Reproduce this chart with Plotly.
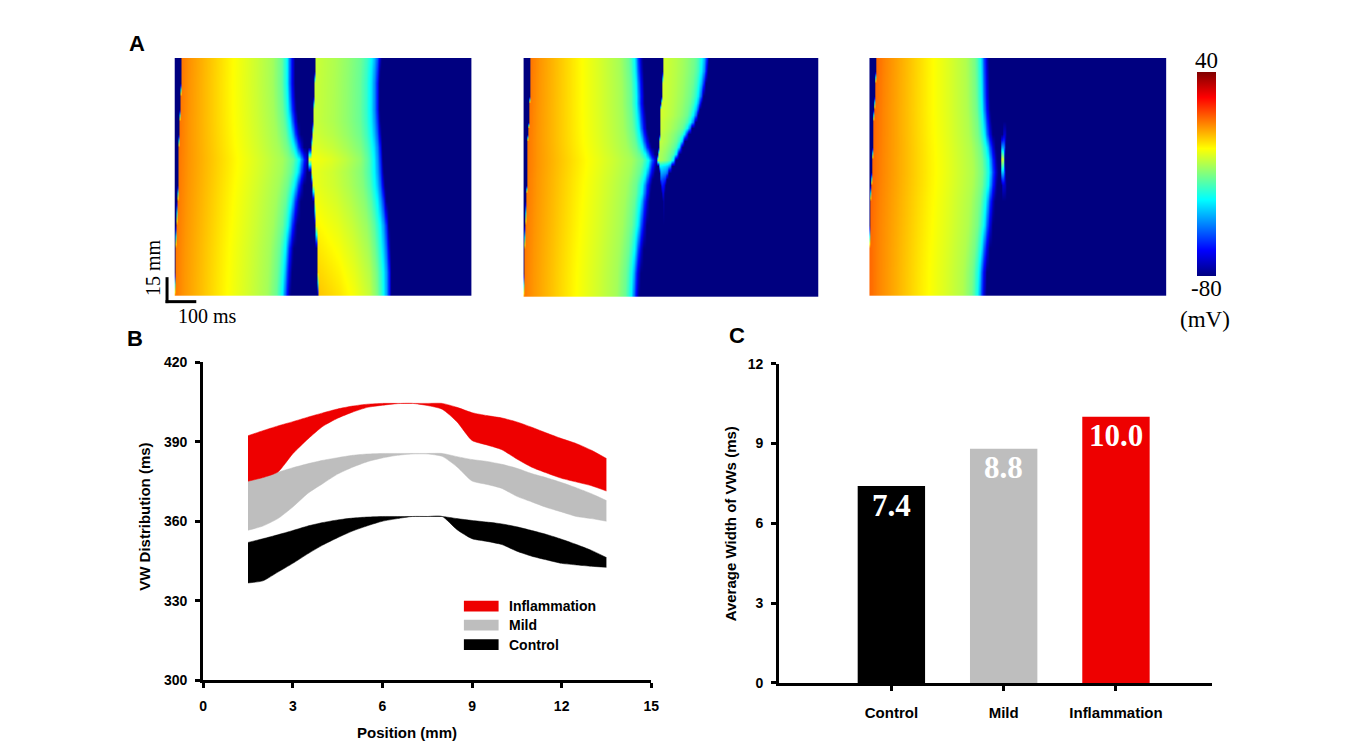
import numpy as np
import plotly.graph_objects as go

W, H = 1356, 756

# ---------------- Panel A: space-time voltage maps ----------------
# action-potential colour profile (fraction of AP duration -> fraction of amplitude)
AP1_U = [0, 0.08, 0.25, 0.45, 0.65, 0.8, 0.88, 0.93, 0.965, 1.0]
AP1_F = [1, 0.96, 0.90, 0.826, 0.761, 0.707, 0.630, 0.489, 0.217, 0]
AP2_U = [0, 0.3, 0.5, 0.7, 0.8, 0.88, 0.94, 0.98, 1.0]
AP2_F = [1, 0.95, 0.90, 0.83, 0.74, 0.60, 0.40, 0.18, 0]
REST_MV = -80

# Control
CTRL_POS = [0, 1.5, 3, 4.5, 6, 7, 7.8, 8.6, 9.4, 10.2, 11, 11.8, 12.6, 13.4, 14.2, 15]
CTRL_ACT1 = [0, 1, 3, 6, 9, 11, 12, 13, 15, 16, 17, 19, 20, 21, 23, 24]
CTRL_END1 = [389, 394, 400, 411, 422, 433, 444, 450, 433, 422, 415, 410, 407, 405, 405, 405]
CTRL_PEAK1 = 11
CTRL_ACT2 = [483, 481, 478, 474, 470, 464, 458, 450, 459, 463, 466, 467, 468, 469, 471, 472]
CTRL_END2 = [728, 728, 724, 720, 711, 705, 702, 700, 698, 694, 691, 689, 689, 689, 691, 694]
CTRL_PEAK2 = [2, 0, -2, -4, -6, -7, -7, -5, -8, -10, -11, -11, -11, -11, -11, -11]

# Mild
MILD_POS = [0, 1.5, 3, 4.5, 6, 6.5, 7, 7.4, 7.8, 8.2, 8.6, 9.0, 9.4, 9.8, 10.2, 10.6, 11,
            11.4, 11.8, 12.2, 12.6, 13.4, 14.2, 15]
MILD_ACT1 = [0, 1, 3, 6, 9, 10, 11, 11, 12, 13, 13, 14, 15, 15, 16, 17, 18,
             18, 19, 20, 21, 22, 24, 25]
MILD_END1 = [392, 396, 405, 416, 425, 430, 433, 438, 444, 450, 455, 444, 433, 427, 422, 418, 416,
             414, 412, 410, 410, 408, 405, 403]
MILD_PEAK1 = 11
MILD_ACT2 = [472, 472, 472, 472, 472, 470, 467, 464, 461, 458, 455, 456, 458, 460, 461, 462, 463,
             464, 465, 466, 468, 470, 471, 472]
MILD_END2 = [477, 477, 477, 477, 477, 477, 479, 483, 492, 503, 515, 526, 536, 545, 557, 570, 582,
             591, 597, 603, 609, 616, 623, 626]
MILD_PEAK2 = [-80, -80, -80, -80, -74, -68, -62, -55, -45, -35, -14, -14, -13, -12, -12, -11, -11,
              -10, -10, -10, -10, -10, -10, -10]

# Inflammation
INFL_POS = [0, 1.5, 3, 4.5, 6, 7, 7.8, 8.6, 9.4, 10.2, 11, 11.8, 12.6, 13.4, 14.2, 15]
INFL_ACT1 = [0, 0, 0, 1, 4, 7, 9, 10, 12, 14, 15, 16, 18, 19, 21, 22]
INFL_END1 = [392, 395, 404, 414, 421, 429, 432, 429, 423, 414, 410, 406, 404, 403, 402, 401]
INFL_PEAK1 = 13
INFL_ACT2 = [450, 450, 450, 450, 450, 447, 444, 442, 445, 448, 450, 450, 450, 450, 450, 450]
INFL_END2 = [462, 462, 462, 462, 462, 459, 456, 455, 457, 460, 462, 462, 462, 462, 462, 462]
INFL_PEAK2 = [-80, -80, -80, -80, -80, -70, -40, -5, -45, -70, -80, -80, -80, -80, -80, -80]

TIME_MS = np.arange(0, 1000.1, 2.5)

def ap_trace(t, act, end, peak, U, F):
    u = (t - act) / (end - act)
    v = REST_MV + (peak - REST_MV) * np.interp(u, U, F)
    v[(u < 0) | (u > 1)] = REST_MV
    return v

def field(pos, act1, end1, peak1, act2, end2, peak2):
    z = []
    for i in range(len(pos)):
        v1 = ap_trace(TIME_MS, act1[i], end1[i], peak1, AP1_U, AP1_F)
        v2 = ap_trace(TIME_MS, act2[i], end2[i], peak2[i], AP2_U, AP2_F)
        z.append(np.maximum(v1, v2))
    return np.array(z)

JET = [[0.0, 'rgb(0,0,128)'], [0.125, 'rgb(0,0,255)'], [0.375, 'rgb(0,255,255)'],
       [0.625, 'rgb(255,255,0)'], [0.875, 'rgb(255,0,0)'], [1.0, 'rgb(128,0,0)']]
V_MIN, V_MAX = -80, 40

# ---------------- Panel B: VW distribution ----------------
POSITION = [1.5, 2.0, 2.5, 3.0, 3.5, 4.0, 4.5, 5.0, 5.5, 6.0, 6.5, 7.0, 7.5, 8.0, 8.5,
            9.0, 9.5, 10.0, 10.5, 11.0, 11.5, 12.0, 12.5, 13.0, 13.5]
INFL_HI = [392.3, 394.2, 396.0, 397.6, 399.3, 400.9, 402.4, 403.5, 404.2, 404.5, 404.5, 404.5, 404.5,
           404.5, 403.0, 401.0, 399.9, 399.0, 397.5, 395.5, 393.3, 391.2, 389.3, 386.8, 383.7]
INFL_LO = [375.1, 376.5, 378.6, 385.5, 391.0, 395.8, 398.9, 401.2, 403.0, 403.8, 404.4, 404.5, 403.7,
           402.3, 397.5, 390.5, 388.8, 387.0, 383.5, 380.4, 378.2, 376.2, 374.8, 373.4, 371.4]
MILD_HI = [375.1, 376.5, 378.5, 380.2, 381.7, 383.0, 384.0, 384.9, 385.4, 385.6, 385.6, 385.6, 385.6,
           385.6, 384.4, 383.3, 382.6, 381.5, 380.0, 378.0, 376.4, 374.6, 372.6, 370.4, 367.8]
MILD_LO = [356.6, 358.2, 361.0, 365.4, 370.5, 374.2, 377.8, 380.4, 382.5, 383.9, 384.9, 385.4, 385.4,
           384.5, 380.5, 375.2, 373.9, 372.4, 369.4, 367.3, 365.2, 363.5, 361.8, 361.0, 360.0]
CTRL_HI = [352.0, 353.4, 354.9, 356.5, 358.2, 359.5, 360.5, 361.2, 361.6, 361.8, 361.8, 361.8, 361.8,
           361.8, 361.0, 360.3, 359.7, 359.0, 357.9, 356.5, 355.0, 353.2, 351.2, 349.0, 346.3]
CTRL_LO = [336.7, 337.5, 340.8, 344.1, 347.7, 351.0, 353.8, 356.3, 358.3, 360.0, 361.0, 361.8, 361.8,
           361.8, 356.8, 353.4, 352.4, 351.2, 348.7, 346.8, 345.4, 344.1, 343.5, 343.0, 342.6]
B_X_TICKS = [0, 3, 6, 9, 12, 15]
B_Y_TICKS = [300, 330, 360, 390, 420]

# ---------------- Panel C: average width ----------------
CATEGORIES = ["Control", "Mild", "Inflammation"]
AVG_WIDTH = [7.4, 8.8, 10.0]
C_Y_TICKS = [0, 3, 6, 9, 12]

RED = 'rgb(238,0,0)'
GRAY = 'rgb(190,190,190)'
BLACK = 'rgb(0,0,0)'
GROUP_COLORS = [BLACK, GRAY, RED]

def px(X):
    return X / W

def py(Y):
    return 1 - Y / H

fig = go.Figure()

# heatmaps
maps = [
    (CTRL_POS, field(CTRL_POS, CTRL_ACT1, CTRL_END1, CTRL_PEAK1, CTRL_ACT2, CTRL_END2, CTRL_PEAK2), 'x', 'y'),
    (MILD_POS, field(MILD_POS, MILD_ACT1, MILD_END1, MILD_PEAK1, MILD_ACT2, MILD_END2, MILD_PEAK2), 'x2', 'y2'),
    (INFL_POS, field(INFL_POS, INFL_ACT1, INFL_END1, INFL_PEAK1, INFL_ACT2, INFL_END2, INFL_PEAK2), 'x3', 'y3'),
]
for k, (pos, z, xa, ya) in enumerate(maps):
    fig.add_trace(go.Heatmap(
        z=z, x=TIME_MS, y=pos, xaxis=xa, yaxis=ya, colorscale=JET,
        zmin=V_MIN, zmax=V_MAX, zsmooth='best', hoverinfo='skip',
        showscale=(k == 2),
        colorbar=dict(x=px(1204), xanchor='left', y=py(170), yanchor='middle',
                      lenmode='pixels', len=204, thickness=19, thicknessmode='pixels',
                      xpad=0, ypad=0, outlinewidth=0, showticklabels=False, ticks='')
    ))

# panel B bands
bands = [(CTRL_LO, CTRL_HI, BLACK), (MILD_LO, MILD_HI, GRAY), (INFL_LO, INFL_HI, RED)]
for lo, hi, col in bands:
    fig.add_trace(go.Scatter(x=POSITION, y=lo, xaxis='x4', yaxis='y4', mode='lines',
                             line=dict(color=col, width=0.5, shape='spline', smoothing=0.6),
                             hoverinfo='skip', showlegend=False))
    fig.add_trace(go.Scatter(x=POSITION, y=hi, xaxis='x4', yaxis='y4', mode='lines',
                             line=dict(color=col, width=0.5, shape='spline', smoothing=0.6),
                             fill='tonexty', fillcolor=col, hoverinfo='skip', showlegend=False))

# panel C bars
fig.add_trace(go.Bar(x=list(range(len(CATEGORIES))), y=AVG_WIDTH, xaxis='x5', yaxis='y5',
                     width=0.6, marker=dict(color=GROUP_COLORS, line=dict(width=0)),
                     hoverinfo='skip', showlegend=False))

SANS = "Liberation Sans, Arial, sans-serif"
SERIF = "Liberation Serif, Times New Roman, serif"

hidden = dict(visible=False, fixedrange=True)
axis_common = dict(showline=True, linewidth=3, linecolor='black', ticks='outside', ticklen=5,
                   tickwidth=2.5, tickcolor='black', showgrid=False, zeroline=False,
                   tickfont=dict(family=SANS, size=14, color='black', weight='bold'),
                   fixedrange=True)

fig.update_layout(
    width=W, height=H, margin=dict(l=0, r=0, t=0, b=0),
    paper_bgcolor='white', plot_bgcolor='white', showlegend=False,
    xaxis=dict(domain=[px(172), px(472)], range=[0, 1000], anchor='y', **hidden),
    yaxis=dict(domain=[py(294), py(51)], range=[0, 15], anchor='x', **hidden),
    xaxis2=dict(domain=[px(524), px(822)], range=[0, 1000], anchor='y2', **hidden),
    yaxis2=dict(domain=[py(295), py(51)], range=[0, 15], anchor='x2', **hidden),
    xaxis3=dict(domain=[px(873), px(1173)], range=[0, 1000], anchor='y3', **hidden),
    yaxis3=dict(domain=[py(294), py(51)], range=[0, 15], anchor='x3', **hidden),
    xaxis4=dict(domain=[px(201), px(653)], range=[0, 15], anchor='y4', tickvals=B_X_TICKS,
                ticklabelstandoff=6, **axis_common),
    yaxis4=dict(domain=[py(686.7), py(362)], range=[300, 420], anchor='x4', tickvals=B_Y_TICKS,
                ticklabelstandoff=5, **axis_common),
    xaxis5=dict(domain=[px(782), px(1219)], range=[-1.0, 2.857], anchor='y5',
                tickvals=list(range(len(CATEGORIES))), ticktext=CATEGORIES,
                ticklabelstandoff=9, **{**axis_common,
                   'tickfont': dict(family=SANS, size=15, color='black', weight='bold')}),
    yaxis5=dict(domain=[py(689.5), py(363.3)], range=[0, 12], anchor='x5', tickvals=C_Y_TICKS,
                ticklabelstandoff=5, **axis_common),
)

ann = []
def add_text(X, Y, text, size, family=SANS, bold=True, color='black', angle=0,
             xanchor='center', yanchor='middle'):
    ann.append(dict(x=px(X), y=py(Y), xref='paper', yref='paper', text=text, showarrow=False,
                    textangle=angle, xanchor=xanchor, yanchor=yanchor,
                    font=dict(family=family, size=size, color=color,
                              weight='bold' if bold else 'normal')))

# panel letters
add_text(134, 36, "A", 22)
add_text(132, 338, "B", 22)
add_text(740, 335, "C", 22)

# axis titles
add_text(142, 520, "VW Distribution (ms)", 15, angle=-90)
add_text(407, 740, "Position (mm)", 15)
add_text(733, 527, "Average Width of VWs (ms)", 15, angle=-90)

# scale bar texts
add_text(151, 265, "15 mm", 20, family=SERIF, bold=False, angle=-90)
add_text(205, 315, "100 ms", 20, family=SERIF, bold=False)

# colorbar labels
add_text(1213, 54, str(V_MAX), 23, family=SERIF, bold=False)
add_text(1213, 287, str(V_MIN), 23, family=SERIF, bold=False)
add_text(1212, 318, "(mV)", 23, family=SERIF, bold=False)

# legend of panel B
legend_items = [("Inflammation", RED, 611), ("Mild", GRAY, 630.5), ("Control", BLACK, 650.5)]
shapes = []
for name, col, yc in legend_items:
    shapes.append(dict(type='rect', xref='paper', yref='paper', x0=px(464), x1=px(499),
                       y0=py(yc + 5.5), y1=py(yc - 5.5), fillcolor=col, line=dict(width=0)))
    add_text(507, yc, name, 14, xanchor='left')

# bar value labels
for i, v in enumerate(AVG_WIDTH):
    ann.append(dict(x=i, y=v, xref='x5', yref='y5', text=f"{v:.1f}", showarrow=False,
                    yanchor='middle', yshift=-19,
                    font=dict(family=SERIF, size=31, color='white', weight='bold')))

# scale bar
shapes.append(dict(type='line', xref='paper', yref='paper', x0=px(164.5), x1=px(164.5),
                   y0=py(275), y1=py(301.5), line=dict(color='black', width=3)))
shapes.append(dict(type='line', xref='paper', yref='paper', x0=px(163), x1=px(194),
                   y0=py(300), y1=py(300), line=dict(color='black', width=3)))

fig.update_layout(annotations=ann, shapes=shapes)
fig.write_html("out.html")
